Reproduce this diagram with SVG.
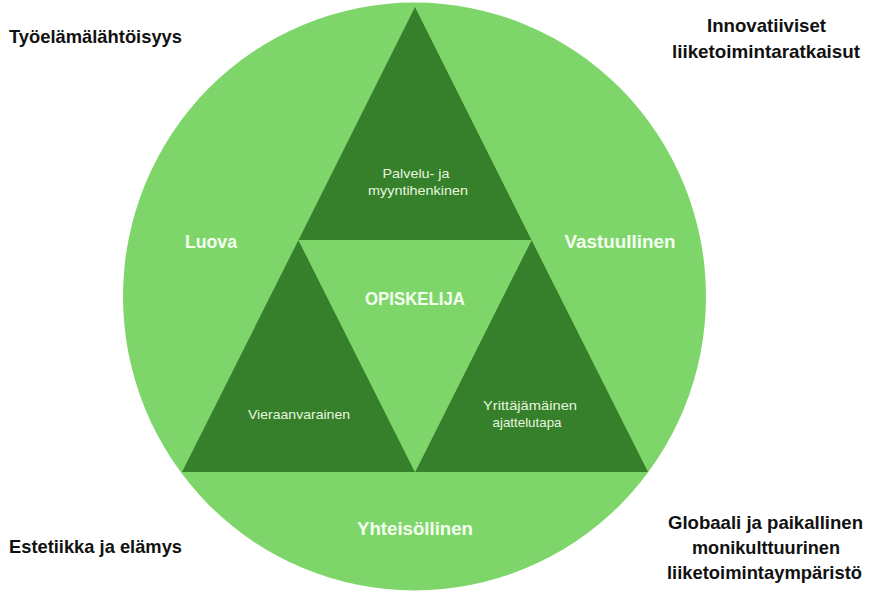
<svg xmlns="http://www.w3.org/2000/svg" width="890" height="606" viewBox="0 0 890 606">
  <style>
    .corner { font-family: "Liberation Sans", Arial, sans-serif; font-weight: bold; font-size: 19px; fill: #111111; }
    .big { font-family: "Liberation Sans", Arial, sans-serif; font-weight: bold; font-size: 18px; fill: #F4FFF0; text-anchor: middle; }
    .small { font-family: "Liberation Sans", Arial, sans-serif; font-size: 13.5px; fill: #E6F7DF; text-anchor: middle; }
    .light { fill: #7ED66B; }
    .dark { fill: #37802B; }
  </style>
  <rect width="890" height="606" fill="#FFFFFF"/>
  <g id="circle">
    <ellipse class="light" cx="414.5" cy="296.5" rx="291.5" ry="294"/>
  </g>
  <g id="triangle-top">
    <polygon class="dark" points="415,7 531.5,240 298.5,240"/>
    <text class="small" x="416" y="178" textLength="67" lengthAdjust="spacingAndGlyphs">Palvelu- ja</text>
    <text class="small" x="418" y="195" textLength="100" lengthAdjust="spacingAndGlyphs">myyntihenkinen</text>
  </g>
  <g id="triangle-left">
    <polygon class="dark" points="298.5,240 415,472 182,472"/>
    <text class="small" x="299" y="419" textLength="102" lengthAdjust="spacingAndGlyphs">Vieraanvarainen</text>
  </g>
  <g id="triangle-right">
    <polygon class="dark" points="531.5,240 648,472 415,472"/>
    <text class="small" x="530" y="410" textLength="94" lengthAdjust="spacingAndGlyphs">Yrittäjämäinen</text>
    <text class="small" x="527" y="427" textLength="69" lengthAdjust="spacingAndGlyphs">ajattelutapa</text>
  </g>
  <g id="center">
    <polygon class="light" points="298.5,240 531.5,240 415,472"/>
    <text class="big" x="415" y="305" textLength="100" lengthAdjust="spacingAndGlyphs">OPISKELIJA</text>
  </g>
  <g id="luova">
    <text class="big" x="211" y="248" textLength="52" lengthAdjust="spacingAndGlyphs">Luova</text>
  </g>
  <g id="vastuullinen">
    <text class="big" x="620" y="248" textLength="111" lengthAdjust="spacingAndGlyphs">Vastuullinen</text>
  </g>
  <g id="yhteisollinen">
    <text class="big" x="415" y="535" textLength="116" lengthAdjust="spacingAndGlyphs">Yhteisöllinen</text>
  </g>
  <g id="tyoelama">
    <text class="corner" x="9" y="43" textLength="173" lengthAdjust="spacingAndGlyphs">Työelämälähtöisyys</text>
  </g>
  <g id="innovatiiviset">
    <text class="corner" x="707" y="32" textLength="119" lengthAdjust="spacingAndGlyphs">Innovatiiviset</text>
    <text class="corner" x="672" y="58" textLength="188" lengthAdjust="spacingAndGlyphs">liiketoimintaratkaisut</text>
  </g>
  <g id="estetiikka">
    <text class="corner" x="9" y="553" textLength="173" lengthAdjust="spacingAndGlyphs">Estetiikka ja elämys</text>
  </g>
  <g id="globaali">
    <text class="corner" x="668" y="529" textLength="195" lengthAdjust="spacingAndGlyphs">Globaali ja paikallinen</text>
    <text class="corner" x="692" y="554" textLength="148" lengthAdjust="spacingAndGlyphs">monikulttuurinen</text>
    <text class="corner" x="667" y="579" textLength="195" lengthAdjust="spacingAndGlyphs">liiketoimintaympäristö</text>
  </g>
  <g id="connectors"></g>
</svg>
